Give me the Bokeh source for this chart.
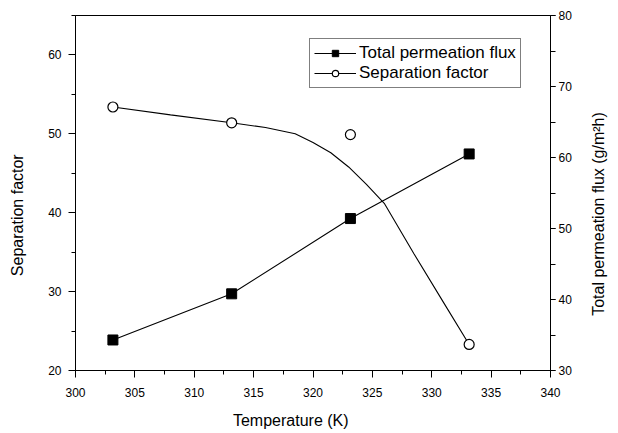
from bokeh.plotting import figure
from bokeh.models import (Range1d, LinearAxis, SingleIntervalTicker, FixedTicker, Legend, LegendItem)
from bokeh.embed import file_html
from bokeh.resources import INLINE
import math

# Data
temperature = [303.15, 313.15, 323.15, 333.15]
flux = [34.3, 40.8, 51.4, 60.5]               # g/m2h (right axis)
sep_factor = [53.4, 51.4, 49.9, 23.3]        # left axis

# fitted curve for separation factor as drawn in the figure
fit_temperature = [303.15, 308.0, 313.15, 316.0, 318.5, 320.0, 321.5, 323.0, 324.5, 326.0, 328.5, 331.0, 333.15]
fit_sep_factor = [53.4, 52.4, 51.4, 50.8, 50.0, 48.9, 47.6, 45.8, 43.6, 41.2, 34.8, 28.6, 23.3]

left_label = "Separation factor"
right_label = "Total permeation flux (g/m\u00b2h)"
x_label = "Temperature (K)"

FONT = "Liberation Sans"
NB = "\u00a0"

p = figure(width=618, height=433, output_backend="svg", toolbar_location=None,
           x_range=Range1d(300, 340), y_range=Range1d(20, 65),
           min_border_left=75, min_border_right=63, min_border_top=15, min_border_bottom=63)
p.extra_y_ranges = {"flux": Range1d(30, 80)}
p.background_fill_color = "white"
p.border_fill_color = "white"
p.outline_line_color = "black"
p.outline_line_width = 1
p.xgrid.visible = False
p.ygrid.visible = False

def style_axis(ax, out_major, out_minor, standoff):
    ax.axis_line_color = "black"
    ax.axis_line_width = 1
    ax.major_tick_line_color = "black"
    ax.minor_tick_line_color = "black"
    ax.major_tick_in = 0
    ax.minor_tick_in = 0
    ax.major_tick_out = out_major
    ax.minor_tick_out = out_minor
    ax.major_label_text_font = FONT
    ax.major_label_text_font_size = "12px"
    ax.major_label_text_color = "black"
    ax.major_label_standoff = standoff
    ax.axis_label_text_font = FONT
    ax.axis_label_text_font_size = "16px"
    ax.axis_label_text_font_style = "normal"
    ax.axis_label_text_color = "black"

xa = p.xaxis[0]
xa.ticker = SingleIntervalTicker(interval=5, num_minor_ticks=2)
style_axis(xa, 7, 4, 10)
xa.axis_label = x_label + NB * 10
xa.axis_label_standoff = 12

ya = p.yaxis[0]
ya.ticker = SingleIntervalTicker(interval=10, num_minor_ticks=2)
style_axis(ya, 7, 4, 7)
ya.axis_label = left_label + NB * 10
ya.axis_label_standoff = 19

right = LinearAxis(y_range_name="flux", ticker=SingleIntervalTicker(interval=10, num_minor_ticks=2))
style_axis(right, 5, 5, 3)
p.add_layout(right, "right")

# right-hand title, written bottom-to-top, carried by a label-only axis
title_anchor = 37.7
right_title = LinearAxis(y_range_name="flux", ticker=FixedTicker(ticks=[title_anchor], minor_ticks=[]),
                         major_label_overrides={title_anchor: right_label})
right_title.axis_line_color = None
right_title.major_tick_line_color = None
right_title.minor_tick_line_color = None
right_title.major_tick_out = 0
right_title.minor_tick_out = 0
right_title.major_tick_in = 0
right_title.minor_tick_in = 0
right_title.major_label_orientation = math.pi / 2
right_title.major_label_text_font = FONT
right_title.major_label_text_font_size = "16px"
right_title.major_label_text_color = "black"
right_title.major_label_standoff = 24
p.add_layout(right_title, "right")

# separation factor
sep_line = p.line(fit_temperature, fit_sep_factor, line_color="black", line_width=1.1)
sep_pts = p.scatter(temperature, sep_factor, marker="circle", size=10,
                    fill_color="white", line_color="black", line_width=1.2)
# flux
flux_line = p.line(temperature, flux, line_color="black", line_width=1.1, y_range_name="flux")
flux_pts = p.scatter(temperature, flux, marker="square", size=10,
                     fill_color="black", line_color="black", y_range_name="flux")

legend = Legend(items=[
    LegendItem(label="Total permeation flux", renderers=[flux_line, flux_pts]),
    LegendItem(label="Separation factor", renderers=[sep_line, sep_pts]),
], location=(234, 282))
legend.border_line_color = "black"
legend.border_line_width = 1
legend.background_fill_alpha = 1
legend.label_text_font = FONT
legend.label_text_font_size = "17px"
legend.label_text_color = "black"
legend.glyph_width = 42
legend.glyph_height = 16
legend.label_height = 18
legend.label_standoff = 3
legend.spacing = 0
legend.padding = 4
legend.margin = 0
p.add_layout(legend, "center")

open("out.html", "w").write(file_html(p, INLINE))
